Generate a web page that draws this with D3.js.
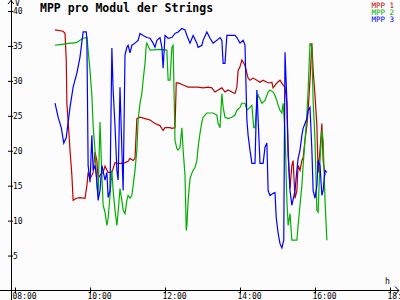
<!DOCTYPE html>
<html><head>
<meta charset="utf-8">
<title>MPP pro Modul der Strings</title>
<script src="https://cdn.jsdelivr.net/npm/d3@7"></script>
<style>
  body { margin: 0; background: #fcfcfc; }
  svg { display: block; background: #fcfcfc; }
  svg text { font-family: "DejaVu Sans Mono", monospace; font-size: 8px; fill: #000; }
  .title { font-size: 11.5px; font-weight: bold; }
  .legend { font-size: 7.5px; }
  .series { fill: none; stroke-width: 1.2; stroke-linejoin: miter; }
</style>
</head>
<body>
<svg width="400" height="300"></svg>

<script>
// values: [time, volts]
let mpp1 = [["09:04",37.3],["09:17",37.1],["09:20",36.8],["09:22",33.0],["09:23",26.8],["09:26",22.9],
  ["09:28",20.1],["09:31",16.5],["09:33",12.9],["09:38",13.2],["09:44",13.3],["09:52",13.2],["09:55",15.0],
  ["09:57",16.9],["10:00",16.0],["10:03",16.5],["10:05",16.9],["10:08",19.8],["10:11",18.6],["10:13",16.0],
  ["10:16",16.5],["10:21",16.9],["10:24",17.8],["10:29",16.9],["10:35",16.9],["10:40",18.3],["10:45",18.2],
  ["10:51",18.2],["10:56",18.3],["11:01",18.5],["11:04",18.9],["11:09",18.6],["11:12",18.9],["11:15",24.6],
  ["11:20",24.8],["11:28",24.6],["11:36",24.4],["11:44",23.9],["11:52",23.6],["11:57",22.9],["12:00",23.3],
  ["12:08",23.3],["12:11",23.2],["12:16",23.3],["12:18",29.7],["12:21",29.7],["12:29",29.4],["12:37",29.1],
  ["12:53",29.1],["13:01",29.0],["13:09",29.1],["13:15",29.0],["13:20",28.4],["13:25",28.7],["13:31",29.0],
  ["13:36",28.4],["13:41",28.7],["13:47",28.4],["13:52",28.2],["13:55",29.1],["13:57",31.5],["14:00",32.0],
  ["14:03",33.0],["14:05",32.7],["14:08",32.2],["14:11",31.1],["14:13",30.4],["14:16",30.1],["14:21",30.4],
  ["14:27",30.1],["14:32",29.8],["14:37",30.1],["14:43",29.8],["14:48",29.7],["14:51",29.8],["14:53",29.0],
  ["14:59",29.7],["15:04",30.1],["15:09",29.4],["15:12",29.1],["15:15",26.8],["15:17",19.3],["15:20",14.6],
  ["15:23",17.9],["15:25",18.6],["15:28",13.2],["15:31",14.3],["15:33",17.9],["15:36",17.2],["15:39",18.6],
  ["15:41",19.0],["15:44",21.5],["15:47",23.6],["15:49",25.8],["15:52",30.1],["15:55",35.4],["15:57",31.5],
  ["16:00",27.9],["16:03",23.6],["16:05",16.9],["16:08",20.1],["16:11",23.9],["16:13",18.6],["16:16",16.5]];

let mpp2 = [["09:04",35.1],["09:12",35.2],["09:28",35.4],["09:33",35.4],["09:39",35.5],["09:44",35.8],
  ["09:49",36.1],["09:55",36.2],["09:57",34.4],["10:00",31.5],["10:03",27.9],["10:05",23.6],["10:08",20.1],
  ["10:11",15.0],["10:13",13.6],["10:16",24.1],["10:19",16.5],["10:21",12.2],["10:24",11.2],["10:27",9.3],
  ["10:29",10.3],["10:32",13.6],["10:35",17.2],["10:37",14.3],["10:40",11.5],["10:43",9.3],["10:45",11.2],
  ["10:48",14.6],["10:51",12.9],["10:53",11.5],["10:56",11.0],["10:59",12.9],["11:01",13.6],["11:04",13.2],
  ["11:07",13.6],["11:09",15.0],["11:12",17.2],["11:15",20.1],["11:17",24.4],["11:20",26.8],["11:23",28.2],
  ["11:25",30.1],["11:28",32.5],["11:30",35.1],["11:31",35.4],["11:36",34.4],["11:52",34.5],["12:03",34.4],
  ["12:05",30.1],["12:08",30.1],["12:11",34.8],["12:13",35.1],["12:16",21.5],["12:19",20.3],["12:21",20.1],
  ["12:24",20.5],["12:27",23.3],["12:29",20.1],["12:32",16.5],["12:34",8.6],["12:35",9.3],["12:37",12.9],
  ["12:40",16.0],["12:43",16.8],["12:45",17.2],["12:48",17.6],["12:51",18.6],["12:53",20.5],["12:56",22.5],
  ["12:59",24.1],["13:01",24.8],["13:07",25.4],["13:17",25.4],["13:23",25.1],["13:25",23.9],["13:28",23.3],
  ["13:31",28.2],["13:33",26.2],["13:36",24.8],["13:41",24.6],["13:47",24.8],["13:52",25.1],["13:55",25.8],
  ["14:00",26.2],["14:03",26.8],["14:08",26.8],["14:11",25.8],["14:16",26.2],["14:19",26.5],["14:22",23.3],
  ["14:24",23.3],["14:27",26.8],["14:29",28.0],["14:35",26.8],["14:40",27.2],["14:45",28.4],["14:48",28.7],
  ["14:53",28.4],["14:56",27.9],["14:59",27.2],["15:01",26.5],["15:04",25.8],["15:07",25.4],["15:09",26.8],
  ["15:12",22.9],["15:15",12.9],["15:17",9.3],["15:20",11.0],["15:23",7.2],["15:31",7.2],["15:33",9.3],
  ["15:36",12.2],["15:39",15.0],["15:41",17.9],["15:44",21.5],["15:47",25.1],["15:49",28.7],["15:52",35.4],
  ["15:55",34.8],["15:57",27.2],["16:00",21.5],["16:03",11.5],["16:05",11.2],["16:08",18.6],["16:11",22.9],
  ["16:13",21.5],["16:16",12.9],["16:19",7.2]];

let mpp3 = [["09:04",26.8],["09:09",24.8],["09:14",23.3],["09:18",21.1],["09:22",21.9],["09:28",26.2],
  ["09:33",29.1],["09:39",31.1],["09:44",33.4],["09:49",37.0],["09:54",37.0],["09:55",36.1],["09:57",17.9],
  ["10:00",15.5],["10:03",22.2],["10:05",17.2],["10:08",17.9],["10:11",15.8],["10:13",12.9],["10:16",14.3],
  ["10:19",17.9],["10:24",15.8],["10:27",16.9],["10:29",13.3],["10:32",14.3],["10:35",34.7],["10:37",28.7],
  ["10:40",23.6],["10:43",17.2],["10:45",15.8],["10:48",29.1],["10:51",20.1],["10:53",14.3],["10:56",33.7],
  ["10:59",34.8],["11:01",35.1],["11:04",34.0],["11:07",35.1],["11:12",35.4],["11:17",35.8],["11:20",36.8],
  ["11:25",36.5],["11:31",36.2],["11:36",36.1],["11:41",35.4],["11:44",34.8],["11:47",35.8],["11:52",36.2],
  ["11:55",34.8],["11:57",31.8],["12:00",36.5],["12:05",36.1],["12:11",36.2],["12:16",36.8],["12:21",37.0],
  ["12:27",37.5],["12:32",37.3],["12:35",36.5],["12:40",35.4],["12:45",36.5],["12:51",35.4],["12:53",34.8],
  ["12:59",35.1],["13:01",35.8],["13:07",37.0],["13:12",36.1],["13:17",35.4],["13:23",35.8],["13:28",36.2],
  ["13:31",35.8],["13:33",32.5],["13:36",32.5],["13:39",36.5],["13:52",36.5],["13:55",36.2],["14:00",35.4],
  ["14:05",35.8],["14:08",35.1],["14:11",24.4],["14:13",22.2],["14:16",20.1],["14:19",18.2],["14:24",18.2],
  ["14:27",28.7],["14:32",18.2],["14:37",18.2],["14:40",20.5],["14:43",21.1],["14:45",14.3],["14:48",13.6],
  ["14:53",13.9],["14:56",14.0],["14:58",10.4],["15:01",8.2],["15:04",6.7],["15:07",6.1],["15:10",7.2],
  ["15:12",34.1],["15:15",27.2],["15:17",20.1],["15:20",14.3],["15:23",12.2],["15:28",14.3],["15:31",17.2],
  ["15:33",18.9],["15:36",20.1],["15:39",22.2],["15:41",23.2],["15:44",23.9],["15:47",24.6],["15:49",25.8],
  ["15:52",26.2],["15:55",20.1],["15:57",14.3],["16:00",13.2],["16:03",15.0],["16:05",18.6],["16:08",17.9],
  ["16:11",13.6],["16:13",14.3],["16:16",17.2],["16:19",16.9]];

let seriesNames = ["MPP 1", "MPP 2", "MPP 3"];
let seriesColors = ["#c00000", "#00b000", "#0000ff"];
let yTicks = [5, 10, 15, 20, 25, 30, 35, 40];
let xTicks = ["08:00", "10:00", "12:00", "14:00", "16:00", "18:00"];

let parseTime = d3.timeParse("%H:%M");
let svg = d3.select("svg");

let x = d3.scaleTime()
  .domain([parseTime("08:00"), parseTime("18:00")])
  .range([15, 390]);
let y = d3.scaleLinear()
  .domain([0, 40])
  .range([290.5, 11]);

// x axis, ticks crossing the line, labels starting just left of the tick
let xAxis = svg.append("g")
  .attr("transform", "translate(0," + y(0) + ")")
  .call(d3.axisBottom(x)
    .tickValues(xTicks.map(parseTime))
    .tickFormat(d3.timeFormat("%H:%M"))
    .tickSizeOuter(0));
xAxis.select(".domain").remove();
xAxis.selectAll(".tick line").attr("y1", -3).attr("y2", 3).attr("stroke", "#000");
xAxis.selectAll(".tick text")
  .attr("text-anchor", "start").attr("x", -3).attr("y", 8.5).attr("dy", 0)
  .style("font-family", "DejaVu Sans Mono").style("font-size", "8px");

// y axis, labels to the right of the line
let yAxis = svg.append("g")
  .attr("transform", "translate(11,0)")
  .call(d3.axisRight(y).tickValues(yTicks).tickSizeOuter(0));
yAxis.select(".domain").remove();
yAxis.selectAll(".tick line").attr("x1", -3).attr("x2", 2).attr("stroke", "#000");
yAxis.selectAll(".tick text")
  .attr("x", 2).attr("dy", "0.32em")
  .style("font-family", "DejaVu Sans Mono").style("font-size", "8px");

// axis lines with arrows
svg.append("line").attr("x1", 0).attr("x2", 399).attr("y1", y(0)).attr("y2", y(0))
  .attr("stroke", "#000").attr("shape-rendering", "crispEdges");
svg.append("path").attr("d", "M395," + (y(0) - 4) + "L399," + y(0) + "L395," + (y(0) + 4))
  .attr("fill", "none").attr("stroke", "#000");
svg.append("line").attr("x1", 11).attr("x2", 11).attr("y1", 0).attr("y2", 300)
  .attr("stroke", "#000").attr("shape-rendering", "crispEdges");
svg.append("path").attr("d", "M8,4L11,0.5L14,4")
  .attr("fill", "none").attr("stroke", "#000");
svg.append("text").attr("x", 15).attr("y", 6).text("V");
svg.append("text").attr("x", 385).attr("y", 284).text("h");

// the three strings
let line = d3.line()
  .x(d => x(parseTime(d[0])))
  .y(d => y(d[1]));

[mpp1, mpp2, mpp3].forEach(function(s, i) {
  svg.append("path")
    .datum(s)
    .attr("class", "series")
    .attr("stroke", seriesColors[i])
    .attr("d", line);
});

// title and legend
svg.append("text").attr("class", "title").attr("x", 40).attr("y", 11.5)
  .text("MPP pro Modul der Strings");

seriesNames.forEach(function(n, i) {
  svg.append("text")
    .attr("class", "legend")
    .attr("x", 394).attr("y", 7.5 + i * 7)
    .attr("text-anchor", "end")
    .style("fill", seriesColors[i])
    .text(n);
});
</script>
</body>
</html>
